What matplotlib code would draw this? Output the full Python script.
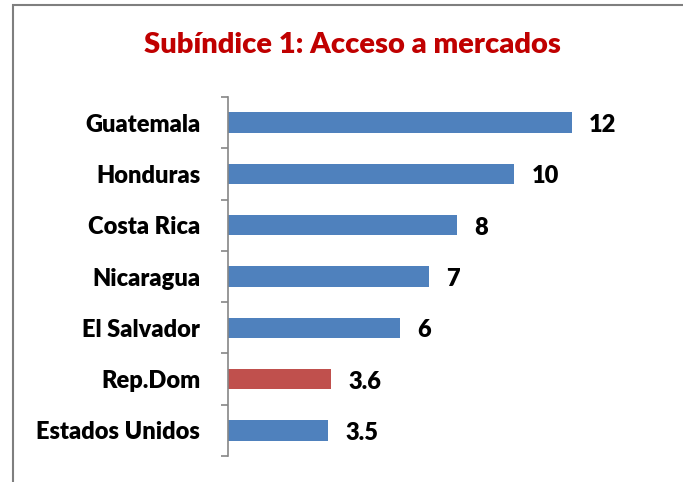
import matplotlib.pyplot as plt
from matplotlib.patches import Rectangle

paises = ['Guatemala', 'Honduras', 'Costa Rica', 'Nicaragua', 'El Salvador', 'Rep.Dom', 'Estados Unidos']
valores = [12, 10, 8, 7, 6, 3.6, 3.5]
etiquetas = ['12', '10', '8', '7', '6', '3.6', '3.5']
colores = ['#4F81BD', '#4F81BD', '#4F81BD', '#4F81BD', '#4F81BD', '#C0504D', '#4F81BD']

plt.rcParams['font.family'] = ['Lato', 'DejaVu Sans']
plt.rcParams['font.weight'] = 'bold'

fig = plt.figure(figsize=(6.83, 4.82), dpi=100)
ax = fig.add_axes([228 / 683, 1 - 456 / 482, 401 / 683, 359 / 482])

pos = list(range(len(paises)))
ax.barh(pos, valores, height=0.4, color=colores)
ax.set_ylim(len(paises) - 0.5, -0.5)
ax.set_xlim(0, 14)

for y, v, t in zip(pos, valores, etiquetas):
    ax.text(v + 0.6, y + 0.05, t, va='center', ha='left', fontsize=17, fontweight='heavy')

ax.set_yticks(pos)
ax.set_yticklabels(paises, fontsize=17, fontweight='heavy')
ax.tick_params(axis='y', which='major', length=0, pad=20)
ax.set_yticks([p - 0.5 for p in pos] + [len(pos) - 0.5], minor=True)
ax.tick_params(axis='y', which='minor', length=5, color='#868686', width=1.2)
ax.set_xticks([])
for s in ['top', 'right', 'bottom']:
    ax.spines[s].set_visible(False)
ax.spines['left'].set_color('#868686')
ax.spines['left'].set_linewidth(1.2)

fig.text(352 / 683, 1 - 45 / 482, 'Subíndice 1: Acceso a mercados', ha='center', va='center',
         fontsize=21, fontweight='heavy', color='#C00000')

# marco del gráfico (cortado a la derecha y abajo)
fig.patches.append(Rectangle((13 / 683, -0.1), 1.2, 1 - 5 / 482 + 0.1, transform=fig.transFigure,
                             fill=False, edgecolor='#7F7F7F', linewidth=1.5))

fig.savefig('out.png', dpi=100)
